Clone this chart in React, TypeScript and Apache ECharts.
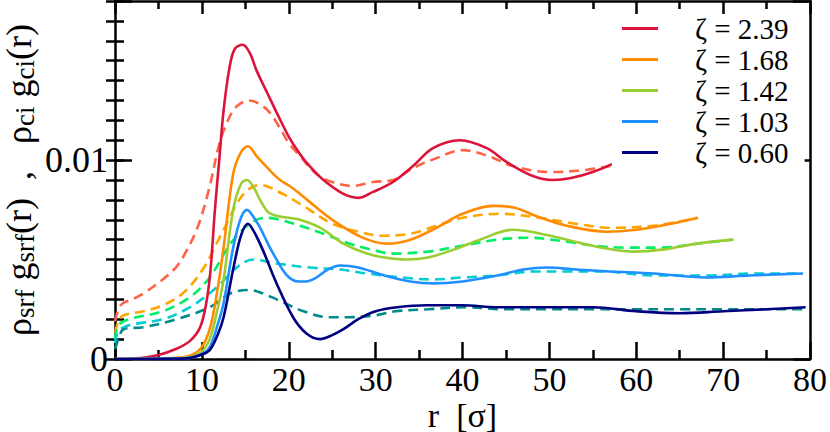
import React, { useEffect, useRef } from 'react';
import * as echarts from 'echarts';

const FONT = 'Liberation Serif';

const zetaLabels = ['ζ = 2.39', 'ζ = 1.68', 'ζ = 1.42', 'ζ = 1.03', 'ζ = 0.60'];
const solidColors = ['#dc143c', '#ff8c00', '#9acd32', '#1e90ff', '#000080'];
const dashedColors = ['#ff6347', '#ffa500', '#00ee66', '#00ced1', '#008b8b'];

// rho_srf g_srf(r) (solid)
const srf239: [number, number][] = [
  [0, 0], [3, 0.00005], [5, 0.0002], [7, 0.0005], [8.6, 0.0009], [9.8, 0.0016], [10.5, 0.0028],
  [11, 0.0045], [11.5, 0.0075], [12, 0.0100], [12.5, 0.0125], [13.2, 0.0147], [13.8, 0.0156],
  [14.7, 0.0158], [15.5, 0.0154], [16.3, 0.0145], [17.5, 0.0134], [18.6, 0.0124], [20.1, 0.0111],
  [21.3, 0.0103], [22.4, 0.0097], [24, 0.0090], [26.3, 0.0083], [28, 0.0081], [29.7, 0.0084],
  [32, 0.0089], [34.3, 0.0097], [36.6, 0.0106], [39.7, 0.0110], [42.8, 0.0106], [45.1, 0.0099],
  [48.1, 0.0092], [50.4, 0.0090], [52.5, 0.0091], [55, 0.0094], [57.2, 0.0098],
];
const srf168: [number, number][] = [
  [0, 0], [5, 0.00003], [8, 0.0001], [9.8, 0.0005], [10.9, 0.0015], [11.8, 0.0035], [12.5, 0.0056],
  [13.6, 0.0093], [14.5, 0.0104], [15.3, 0.0107], [16.3, 0.0102], [17.8, 0.0095], [19, 0.0090],
  [20.1, 0.0087], [21.3, 0.0083], [22.4, 0.0079], [25, 0.0070], [28.5, 0.0061], [31.3, 0.0058],
  [34, 0.0060], [37, 0.0066], [40, 0.0073], [43.5, 0.0077], [46, 0.0076], [49, 0.0071],
  [52, 0.0067], [56.6, 0.0064], [60, 0.0065], [64, 0.0068], [67.1, 0.0071],
];
const srf142: [number, number][] = [
  [0, 0], [8, 0.00005], [9.8, 0.0003], [10.9, 0.0010], [11.8, 0.0025], [12.5, 0.0040], [13.6, 0.0075],
  [14.5, 0.0088], [15.2, 0.0090], [16, 0.0086], [16.7, 0.0080], [17.6, 0.0074], [18.6, 0.0072],
  [20, 0.0071], [21.3, 0.0070], [23.6, 0.0066], [26.3, 0.0058], [29, 0.0053], [31, 0.0051],
  [33.6, 0.0050], [36, 0.0051], [39, 0.0055], [42, 0.0060], [45.8, 0.0065], [49, 0.0063],
  [52, 0.0060], [56, 0.0056], [59.6, 0.0054], [63, 0.0055], [67, 0.0058], [71.2, 0.0060],
];
const srf103: [number, number][] = [
  [0, 0], [8, 0.00003], [9.8, 0.0002], [10.9, 0.0006], [11.8, 0.0017], [12.5, 0.0028], [13.6, 0.0056],
  [14.5, 0.0071], [15.2, 0.0075], [16, 0.0071], [16.7, 0.0066], [17.6, 0.0058], [18.6, 0.0050],
  [19.8, 0.0042], [21.1, 0.0039], [22, 0.0039], [23.2, 0.0041], [24.5, 0.0045], [25.9, 0.0047],
  [28, 0.0046], [31, 0.0042], [34, 0.0039], [36.6, 0.0038], [40, 0.0039], [44, 0.0042],
  [47, 0.0045], [49.7, 0.0046], [53, 0.0045], [57, 0.0044], [62, 0.0043], [68, 0.0041],
  [73, 0.0042], [79.2, 0.0043],
];
const srf060: [number, number][] = [
  [0, 0], [8, 0.00002], [9.8, 0.0002], [10.9, 0.00045], [11.8, 0.0012], [12.5, 0.0021], [13.6, 0.0045],
  [14.5, 0.0062], [15.3, 0.0068], [16, 0.0064], [17, 0.0055], [18.6, 0.0038], [20.5, 0.0021],
  [22, 0.0013], [23.6, 0.0010], [25, 0.0012], [26.3, 0.0015], [28, 0.0020], [30, 0.0024],
  [32.5, 0.0026], [35.9, 0.0027], [40, 0.0027], [44, 0.0026], [48.9, 0.0026], [55, 0.0026],
  [60, 0.0024], [65, 0.0023], [70, 0.0024], [75, 0.0025], [79.5, 0.0026],
];

// rho_ci g_ci(r) (dashed)
const ci239: [number, number][] = [
  [0, 0.0019], [0.4, 0.0025], [0.9, 0.0028], [2, 0.0030], [3.3, 0.0033], [5.5, 0.0040], [7, 0.0046],
  [7.8, 0.0051], [9.4, 0.0065], [10.8, 0.0085], [12, 0.0108], [13, 0.0120], [14, 0.0127],
  [15.5, 0.0130], [16.7, 0.0128], [17.8, 0.0124], [19, 0.0116], [20.1, 0.0108], [21.3, 0.0102],
  [23.2, 0.0093], [25, 0.0089], [27.4, 0.0087], [29.7, 0.0089], [32, 0.0090], [34.3, 0.0096],
  [37, 0.0101], [40, 0.0105], [43, 0.0102], [45.8, 0.0097], [50, 0.0094], [54, 0.0095], [57, 0.0097],
];
const ci168: [number, number][] = [
  [0, 0.0013], [0.4, 0.0019], [1, 0.0022], [3.3, 0.0024], [5.5, 0.0027], [7.8, 0.0033], [10.1, 0.0045],
  [12.5, 0.0065], [14.8, 0.0083], [16.7, 0.00875], [19.3, 0.0083], [21.3, 0.0078], [22.4, 0.0075],
  [25, 0.0068], [28, 0.0064], [30.8, 0.0062], [34, 0.0063], [37, 0.0067], [40, 0.0071],
  [44.3, 0.0073], [48.9, 0.0071], [53, 0.0068], [57, 0.0066], [62, 0.0067], [67, 0.0071],
];
const ci142: [number, number][] = [
  [0, 0.0010], [0.4, 0.0017], [1.6, 0.0020], [5.5, 0.0024], [8.6, 0.0031], [10.9, 0.0041],
  [13.3, 0.0058], [15.5, 0.0068], [17.4, 0.0071], [19, 0.0070], [21.3, 0.0067], [24, 0.0063],
  [27, 0.0058], [29.5, 0.0055], [32, 0.0053], [36, 0.0054], [40, 0.0057], [44, 0.0060],
  [47.4, 0.0061], [52, 0.0059], [55, 0.0057], [58.9, 0.0056], [63, 0.0056], [67, 0.0058], [71, 0.0060],
];
const ci103: [number, number][] = [
  [0, 0.0008], [0.4, 0.0014], [1.6, 0.0017], [5.5, 0.0020], [8.6, 0.0026], [11.7, 0.0036],
  [14, 0.0046], [15.9, 0.0050], [18.6, 0.0048], [22.4, 0.0046], [26, 0.0045], [29, 0.0043],
  [33, 0.0041], [36.6, 0.0040], [40, 0.0041], [44, 0.0042], [48, 0.0044], [52, 0.0044],
  [56, 0.0044], [62, 0.0042], [68, 0.0042], [74, 0.0043], [79, 0.0043],
];
const ci060: [number, number][] = [
  [0, 0.0005], [0.4, 0.0010], [1, 0.0015], [3.3, 0.0016], [7.1, 0.0020], [10.9, 0.0026],
  [13.3, 0.0033], [15.5, 0.00347], [17, 0.0033], [18.6, 0.0030], [21.7, 0.0024], [24.7, 0.0021],
  [27, 0.0021], [30, 0.0022], [32.3, 0.0024], [36, 0.0025], [40.4, 0.0026], [45, 0.0025],
  [50, 0.0025], [55, 0.0025], [60, 0.0025], [65, 0.0025], [70, 0.0025], [75, 0.0025], [79.5, 0.0025],
];

const srfSeries = [srf239, srf168, srf142, srf103, srf060];
const ciSeries = [ci239, ci168, ci142, ci103, ci060];

const xMin = 0, xMax = 80, xInterval = 10;
const yMin = 0, yMax = 0.018, yMajor = 0.01, yMinor = 0.001;
const yTickLabels: Record<string, string> = { '0': '0', '0.01': '0.01' };

export default function App() {
  const ref = useRef<HTMLDivElement>(null);
  useEffect(() => {
    document.body.style.margin = '0';
    if (!ref.current) return;
    const chart = echarts.init(ref.current, null, { renderer: 'svg' });
    const black = '#000';
    const lineW = 2.5;
    const baseX = {
      type: 'value', min: xMin, max: xMax, interval: xInterval,
      splitLine: { show: false },
      axisLine: { show: true, onZero: false, lineStyle: { color: black, width: lineW } },
    };
    const baseY = {
      type: 'value', min: yMin, max: yMax,
      splitLine: { show: false },
    };
    const series: any[] = [];
    ciSeries.forEach((d, i) => {
      series.push({
        name: zetaLabels[i] + ' ci', type: 'line', data: d, showSymbol: false, symbol: 'none',
        smooth: 0.35, xAxisIndex: 0, yAxisIndex: 0,
        lineStyle: { color: dashedColors[i], width: 2.6, type: [10, 6] },
        itemStyle: { color: dashedColors[i] },
      });
    });
    srfSeries.forEach((d, i) => {
      series.push({
        name: zetaLabels[i], type: 'line', data: d, showSymbol: false, symbol: 'none',
        smooth: 0.35, xAxisIndex: 0, yAxisIndex: 0,
        lineStyle: { color: solidColors[i], width: 2.6 },
        itemStyle: { color: solidColors[i] },
      });
    });
    chart.setOption({
      animation: false,
      textStyle: { fontFamily: FONT },
      grid: { left: 115, right: 20, top: 1, bottom: 73, containLabel: false, outerBoundsMode: 'none' },
      legend: {
        data: zetaLabels,
        orient: 'vertical', left: 612, top: 14, padding: [0, 16, 8, 10],
        backgroundColor: '#fff',
        itemWidth: 36, itemHeight: 3, itemGap: 2, icon: 'rect',
        selectedMode: false,
        formatter: (name: string) => `{pad|}{t|${name}}`,
        textStyle: {
          fontSize: 29, fontFamily: FONT, color: black, lineHeight: 28,
          rich: {
            pad: { width: 32 },
            t: { fontSize: 29, fontFamily: FONT, color: black, lineHeight: 28 },
          },
        },
      },
      xAxis: [
        {
          ...baseX, position: 'bottom',
          axisTick: { show: true, inside: true, length: 17, lineStyle: { color: black, width: lineW } },
          minorTick: { show: true, splitNumber: 2, length: 9, lineStyle: { color: black, width: lineW } },
          axisLabel: { fontSize: 34, fontFamily: FONT, color: black, margin: 3, lineHeight: 34 },
          name: 'r  [σ]', nameLocation: 'middle', nameGap: 39, nameMoveOverlap: false,
          nameTextStyle: { fontSize: 34, fontFamily: FONT, color: black, lineHeight: 34 },
        },
        {
          ...baseX, position: 'top',
          axisTick: { show: true, inside: true, length: 13, lineStyle: { color: black, width: lineW } },
          minorTick: { show: true, splitNumber: 2, length: 8, lineStyle: { color: black, width: lineW } },
          axisLabel: { show: false },
        },
      ],
      yAxis: [
        {
          ...baseY, position: 'left', interval: yMajor,
          axisLine: { show: true, onZero: false, lineStyle: { color: black, width: lineW } },
          axisTick: { show: true, inside: true, length: 17, lineStyle: { color: black, width: lineW } },
          axisLabel: {
            fontSize: 36, fontFamily: FONT, color: black, margin: 7,
            formatter: (v: number) => yTickLabels[String(Math.round(v * 1e6) / 1e6)] ?? '',
          },
          name: 'ρ{s|srf} g{s|srf}(r)  ,   ρ{s|ci} g{s|ci}(r)',
          nameLocation: 'middle', nameRotate: 90, nameGap: 77, nameMoveOverlap: false,
          nameTextStyle: {
            fontSize: 36, fontFamily: FONT, color: black, lineHeight: 38,
            rich: {
              s: { fontSize: 27, fontFamily: FONT, color: black, lineHeight: 26, verticalAlign: 'bottom' },
            },
          },
        },
        {
          ...baseY, position: 'left', interval: yMinor,
          axisLine: { show: false },
          axisTick: { show: true, inside: true, length: 9, lineStyle: { color: black, width: lineW } },
          axisLabel: { show: false },
        },
        {
          ...baseY, position: 'right', interval: yMajor,
          axisLine: { show: true, onZero: false, lineStyle: { color: black, width: lineW } },
          axisTick: { show: true, inside: true, length: 17, lineStyle: { color: black, width: lineW } },
          axisLabel: { show: false },
        },
        {
          ...baseY, position: 'right', interval: yMinor,
          axisLine: { show: false },
          axisTick: { show: true, inside: true, length: 9, lineStyle: { color: black, width: lineW } },
          axisLabel: { show: false },
        },
      ],
      series,
    });
    return () => chart.dispose();
  }, []);
  return <div ref={ref} style={{ width: 830, height: 432 }} />;
}
